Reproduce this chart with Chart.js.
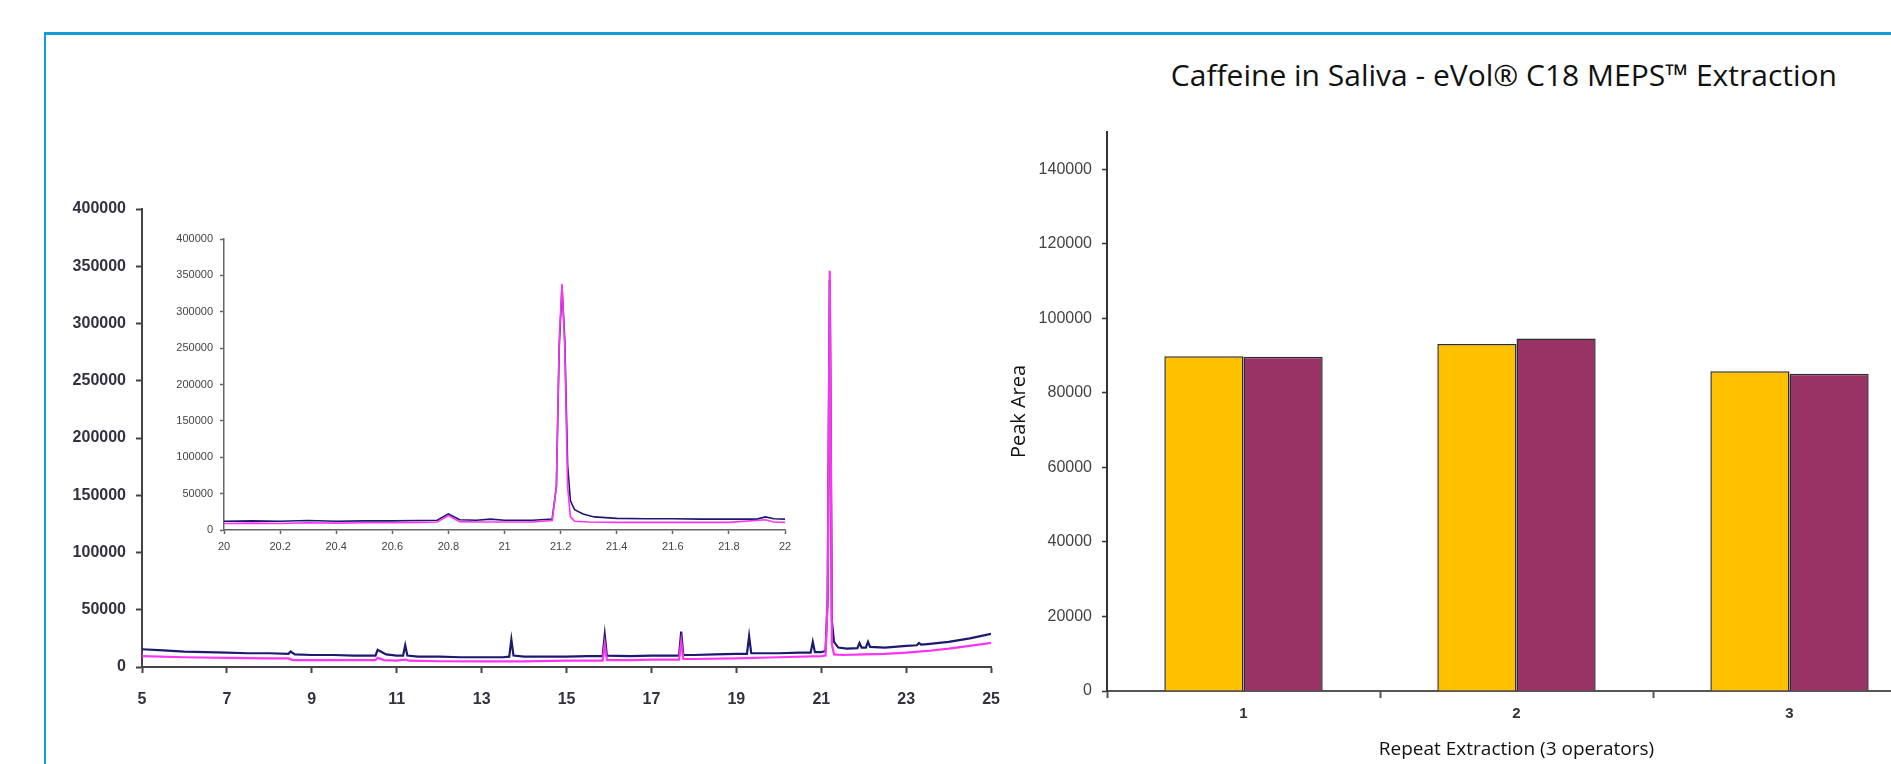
<!DOCTYPE html>
<html>
<head>
<meta charset="utf-8">
<script src="https://cdn.jsdelivr.net/npm/chart.js@4.4.1/dist/chart.umd.min.js"></script>
<style>
  html, body { margin: 0; padding: 0; background: #fff; }
  body { width: 1891px; height: 764px; overflow: hidden; position: relative; }
  .frame { position: absolute; left: 44px; top: 32px; width: 1900px; height: 800px;
           border-top: 3px solid #129cd8; border-left: 2px solid #129cd8; }
  .title { position: absolute; right: 54px; top: 56px; font-family: 'Open Sans', sans-serif;
           font-size: 30px; line-height: 38px; color: #111; white-space: nowrap; }
  canvas { position: absolute; }
  #main { left: 0; top: 180px; }
  #inset { left: 150px; top: 215px; }
  #bars { left: 990px; top: 100px; }
</style>
</head>
<body>
<div class="frame"></div>
<div class="title">Caffeine in Saliva - eVol® C18 MEPS™ Extraction</div>
<canvas id="main" width="1017" height="527"></canvas>
<canvas id="inset" width="655" height="345"></canvas>
<canvas id="bars" width="936" height="664"></canvas>
<script>
// full chromatogram, 5-25 min
const mainNavyX = [5, 5.5, 6, 6.5, 7, 7.5, 8, 8.45, 8.5, 8.6, 9, 9.5, 10, 10.5, 10.55, 10.6, 10.75, 11, 11.15, 11.2, 11.25, 11.5, 12, 12.5, 13, 13.5, 13.65, 13.7, 13.75, 14, 14.5, 15, 15.5, 15.85, 15.9, 15.95, 16.5, 17, 17.65, 17.7, 17.75, 18, 18.5, 19, 19.25, 19.3, 19.35, 19.5, 20, 20.5, 20.75, 20.8, 20.85, 21, 21.1, 21.15, 21.2, 21.25, 21.3, 21.4, 21.6, 21.85, 21.9, 21.95, 22.05, 22.1, 22.15, 22.5, 23, 23.25, 23.3, 23.35, 23.5, 24, 24.5, 25];
const mainNavyY = [15500, 14500, 13500, 13000, 12500, 12000, 12000, 11500, 13500, 11000, 10500, 10500, 10000, 10000, 15000, 14000, 11000, 10000, 10000, 19000, 10000, 9000, 9000, 8500, 8500, 8500, 9000, 24000, 10000, 9000, 9000, 9000, 9500, 9500, 28000, 10000, 9500, 10000, 10000, 31000, 10500, 10500, 11000, 11500, 11500, 27000, 12000, 12000, 12000, 12500, 12500, 22000, 13000, 13000, 14000, 60000, 338000, 40000, 22000, 17000, 16000, 16500, 21000, 17000, 17000, 22000, 17500, 17000, 18500, 19000, 21000, 19500, 20000, 22000, 25000, 29000];
const mainPinkX = [5, 6, 7, 8, 8.45, 8.55, 9, 10, 10.5, 10.55, 10.7, 11, 11.2, 11.3, 12, 13, 14, 15, 15.85, 15.9, 15.95, 16.5, 17, 17.65, 17.7, 17.75, 18, 19, 20, 21, 21.1, 21.15, 21.2, 21.25, 21.3, 21.5, 22, 22.5, 23, 23.5, 24, 24.5, 25];
const mainPinkY = [9500, 8500, 8000, 7500, 7500, 6000, 6000, 6000, 6000, 8000, 6000, 5500, 6500, 5500, 5000, 5000, 5000, 5500, 5500, 20000, 6000, 6000, 6500, 6500, 22000, 7000, 7000, 7500, 8500, 9500, 10000, 60000, 346000, 20000, 11000, 10500, 11000, 11500, 12500, 14000, 16000, 18500, 21000];
const mainXTicks = { min: 5, max: 25, step: 2 };
const mainYTicks = { min: 0, max: 400000, step: 50000 };

// zoomed inset, 20-22 min
const insetNavyX = [20, 20.1, 20.2, 20.3, 20.4, 20.5, 20.6, 20.7, 20.76, 20.8, 20.84, 20.9, 20.95, 21, 21.1, 21.17, 21.185, 21.195, 21.205, 21.215, 21.225, 21.235, 21.25, 21.28, 21.32, 21.4, 21.5, 21.6, 21.7, 21.8, 21.9, 21.93, 21.96, 22];
const insetNavyY = [12000, 12500, 12000, 13000, 12000, 12500, 12500, 13000, 13500, 22000, 14000, 13500, 15000, 13500, 13500, 15000, 60000, 250000, 335000, 260000, 90000, 40000, 28000, 22000, 18000, 16000, 15500, 15500, 15000, 15000, 15000, 18000, 15500, 15000];
const insetPinkX = [20, 20.1, 20.2, 20.3, 20.4, 20.5, 20.6, 20.7, 20.76, 20.8, 20.84, 20.9, 21, 21.1, 21.17, 21.185, 21.195, 21.205, 21.215, 21.225, 21.235, 21.25, 21.3, 21.4, 21.6, 21.8, 21.93, 21.96, 22];
const insetPinkY = [9000, 9500, 9000, 10000, 9500, 10000, 10000, 10500, 11000, 20000, 11500, 11000, 11000, 11000, 13000, 60000, 260000, 338000, 250000, 60000, 18000, 12000, 11000, 10500, 10500, 10500, 14000, 11000, 10500];
const insetXTicks = { min: 20, max: 22, step: 0.2 };
const insetYTicks = { min: 0, max: 400000, step: 50000 };

// peak area bars
const barLabels = ['1', '2', '3'];
const operatorA = [89800, 93100, 85800];
const operatorB = [89700, 94600, 85100];
const barYMax = 150000;
const barYTickValues = [0, 20000, 40000, 60000, 80000, 100000, 120000, 140000];

const NAVY = '#1b1a70';
const PINK = '#ff33f5';

function points(xs, ys) {
  return xs.map((x, i) => ({ x: x, y: ys[i] }));
}

function fixWidth(w) { return s => { s.width = w; }; }
function fixHeight(h) { return s => { s.height = h; }; }

function renderChromatogram(id, cfg) {
  new Chart(document.getElementById(id), {
    type: 'line',
    data: {
      datasets: [
        { data: points(cfg.pinkX, cfg.pinkY), borderColor: PINK, borderWidth: cfg.lw, pointRadius: 0, tension: 0 },
        { data: points(cfg.navyX, cfg.navyY), borderColor: NAVY, borderWidth: cfg.lw, pointRadius: 0, tension: 0 }
      ]
    },
    options: {
      responsive: false,
      animation: false,
      layout: { padding: cfg.padding },
      plugins: { legend: { display: false }, tooltip: { enabled: false } },
      scales: {
        x: {
          type: 'linear',
          min: cfg.xTicks.min, max: cfg.xTicks.max,
          afterFit: fixHeight(cfg.xHeight),
          border: { color: cfg.axisColor, width: cfg.axisWidth },
          grid: { drawOnChartArea: false, tickLength: cfg.tickLen, tickColor: cfg.axisColor, tickWidth: cfg.axisWidth },
          ticks: {
            stepSize: cfg.xTicks.step, padding: cfg.xPad, color: cfg.labelColor, font: cfg.font,
            maxRotation: 0, autoSkip: false,
            callback: v => String(+v.toFixed(1))
          }
        },
        y: {
          min: cfg.yTicks.min, max: cfg.yTicks.max,
          afterFit: fixWidth(cfg.yWidth),
          border: { color: cfg.axisColor, width: cfg.axisWidth },
          grid: { drawOnChartArea: false, tickLength: cfg.tickLen, tickColor: cfg.axisColor, tickWidth: cfg.axisWidth },
          ticks: {
            stepSize: cfg.yTicks.step, padding: cfg.yPad, color: cfg.labelColor, font: cfg.font,
            autoSkip: false,
            callback: v => String(v)
          }
        }
      }
    }
  });
}

renderChromatogram('main', {
  navyX: mainNavyX, navyY: mainNavyY, pinkX: mainPinkX, pinkY: mainPinkY,
  xTicks: mainXTicks, yTicks: mainYTicks,
  lw: 2.2, padding: { top: 29, right: 0, left: 0, bottom: 0 },
  xHeight: 40, yWidth: 142, tickLen: 6, xPad: 17, yPad: 10,
  axisColor: '#444', axisWidth: 2, labelColor: '#35303f',
  font: { family: 'Liberation Sans', size: 16, weight: 'bold' }
});

renderChromatogram('inset', {
  navyX: insetNavyX, navyY: insetNavyY, pinkX: insetPinkX, pinkY: insetPinkY,
  xTicks: insetXTicks, yTicks: insetYTicks,
  lw: 1.6, padding: { top: 24, right: 20, left: 0, bottom: 0 },
  xHeight: 30, yWidth: 74, tickLen: 4, xPad: 6, yPad: 7,
  axisColor: '#666', axisWidth: 1.5, labelColor: '#444',
  font: { family: 'Liberation Sans', size: 11 }
});

new Chart(document.getElementById('bars'), {
  type: 'bar',
  data: {
    labels: barLabels,
    datasets: [
      { data: operatorA, backgroundColor: '#ffc000', borderColor: '#2e2e2e', borderWidth: 1.5 },
      { data: operatorB, backgroundColor: '#993366', borderColor: '#2e2e2e', borderWidth: 1.5 }
    ]
  },
  options: {
    responsive: false,
    animation: false,
    layout: { padding: { top: 32, right: 0, left: 0, bottom: 0 } },
    plugins: { legend: { display: false }, tooltip: { enabled: false } },
    datasets: { bar: { categoryPercentage: 0.58, barPercentage: 1.0 } },
    scales: {
      x: {
        afterFit: fixHeight(73),
        border: { color: '#555', width: 2 },
        grid: { drawOnChartArea: false, tickLength: 7, tickColor: '#555', tickWidth: 2 },
        ticks: { padding: 7, color: '#333', font: { family: 'Liberation Sans', size: 15, weight: 'bold' } },
        title: { display: true, text: 'Repeat Extraction (3 operators)', color: '#111',
                 padding: { top: 0, bottom: 3 }, font: { family: 'Open Sans', size: 19 } }
      },
      y: {
        min: 0, max: barYMax,
        afterFit: fixWidth(117),
        afterBuildTicks: s => { s.ticks = barYTickValues.map(v => ({ value: v })); },
        border: { color: '#333', width: 2 },
        grid: { drawOnChartArea: false, tickLength: 5, tickColor: '#333', tickWidth: 1.5 },
        ticks: { padding: 10, color: '#444', autoSkip: false,
                 font: { family: 'Liberation Sans', size: 16 }, callback: v => String(v) },
        title: { display: true, text: 'Peak Area', color: '#111',
                 padding: { top: 17, bottom: 0 }, font: { family: 'Open Sans', size: 20 } }
      }
    }
  }
});
</script>
</body>
</html>
